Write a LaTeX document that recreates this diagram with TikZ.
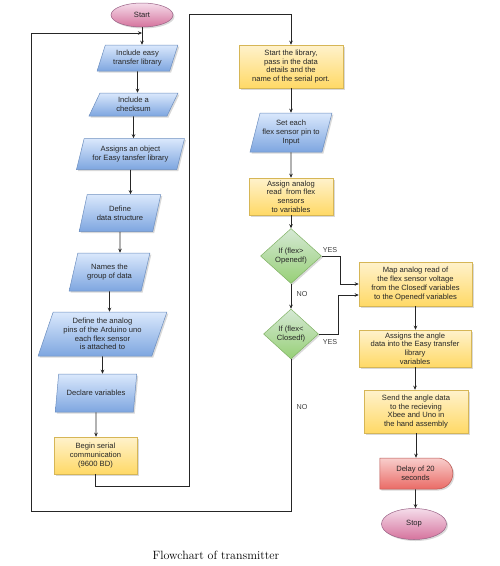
\documentclass[tikz,border=0pt]{standalone}
\usepackage{fontspec}
\usetikzlibrary{shapes.geometric,shapes.misc,shadows,arrows.meta}
\newfontfamily\flowfont{Liberation Sans}

\definecolor{blueTop}{HTML}{DAE8FC}
\definecolor{blueBot}{HTML}{7EA6E0}
\definecolor{blueLine}{HTML}{6C8EBF}
\definecolor{yelTop}{HTML}{FFF2CC}
\definecolor{yelBot}{HTML}{FFD966}
\definecolor{yelLine}{HTML}{D6B656}
\definecolor{grnTop}{HTML}{D5E8D4}
\definecolor{grnBot}{HTML}{97D077}
\definecolor{grnLine}{HTML}{82B366}
\definecolor{redTop}{HTML}{F8CECC}
\definecolor{redBot}{HTML}{EA6B66}
\definecolor{redLine}{HTML}{B85450}
\definecolor{pinkTop}{HTML}{F5DCEA}
\definecolor{pinkBot}{HTML}{D5739D}
\definecolor{pinkLine}{HTML}{996185}

\tikzset{
    base/.style={font=\flowfont\fontsize{7.6}{8.7}\selectfont, text=black!85,
        align=center, inner sep=1pt, line width=0.5pt,
        drop shadow={shadow xshift=1.5pt, shadow yshift=-1.5pt, opacity=0.3}},
    iobox/.style={base, trapezium, trapezium left angle=70, trapezium right angle=110,
        trapezium stretches=true, draw=blueLine, top color=blueTop, bottom color=blueBot},
    procbox/.style={base, rectangle, draw=yelLine, top color=yelTop, bottom color=yelBot},
    testbox/.style={base, diamond, draw=grnLine, top color=grnTop, bottom color=grnBot},
    delaybox/.style={base, rounded rectangle, rounded rectangle left arc=none,
        draw=redLine, top color=redTop, bottom color=redBot},
    termbox/.style={base, ellipse, draw=pinkLine, top color=pinkTop, bottom color=pinkBot},
    arr/.style={-{Stealth[length=4pt,width=3.5pt]}, line width=0.6pt, draw=black!85},
    lbl/.style={font=\flowfont\fontsize{7.2}{8}\selectfont, text=black!75, inner sep=0pt}
}

\begin{document}
\begin{tikzpicture}[x=1pt, y=-1pt]
        \useasboundingbox (0,0) rectangle (500,566);

        % nodes
        \node [termbox, minimum width=62pt, minimum height=24pt] (start) at (142, 15) {Start};
        \node [iobox, minimum width=81pt, minimum height=26pt] (inc) at (137.5, 58) {Include easy\\transfer library};
        \node [iobox, minimum width=89pt, minimum height=23pt] (chk) at (133.5, 104.5) {Include a\\checksum};
        \node [iobox, minimum width=109pt, minimum height=31pt] (obj) at (130.5, 154) {Assigns an object\\for Easy tansfer library};
        \node [iobox, minimum width=82pt, minimum height=37pt] (dstr) at (120, 213) {Define\\data structure};
        \node [iobox, minimum width=81pt, minimum height=38pt] (grp) at (109.5, 272) {Names the\\group of data};
        \node [iobox, minimum width=129pt, minimum height=44pt] (pins) at (102.5, 334) {Define the analog\\pins of the Arduino uno\\each flex sensor\\is attached to};
        \node [iobox, minimum width=82pt, minimum height=38pt] (vars) at (96, 393) {Declare variables};
        \node [procbox, minimum width=83pt, minimum height=37pt] (ser) at (95.5, 455.5) {Begin serial\\communication\\(9600 BD)};

        \node [procbox, minimum width=104pt, minimum height=43pt] (lib) at (291, 66.5) {Start the library,\\pass in the data\\details and the\\name of the serial port.};
        \node [iobox, minimum width=82pt, minimum height=39pt] (pin) at (291, 132.5) {Set each\\flex sensor pin to\\Input};
        \node [procbox, minimum width=84pt, minimum height=37pt] (rd) at (291, 196.5) {Assign analog\\read~ from flex\\sensors\\to variables};
        \node [testbox, minimum width=61pt, minimum height=55pt] (dec1) at (291, 256) {If (flex>\\Openedf)};
        \node [testbox, minimum width=55pt, minimum height=50pt] (dec2) at (291, 334) {If (flex<\\Closedf)};

        \node [procbox, minimum width=113pt, minimum height=44pt] (map) at (415.5, 284) {Map analog read of\\the flex sensor voltage\\from the Closedf variables\\to the Openedf variables};
        \node [procbox, minimum width=112pt, minimum height=37pt] (ang) at (415, 348.5) {Assigns the angle\\data into the Easy transfer\\library\\variables};
        \node [procbox, minimum width=104pt, minimum height=43pt] (send) at (416, 411.5) {Send the angle data\\to the recieving\\Xbee and Uno in\\the hand assembly};
        \node [delaybox, minimum width=75pt, minimum height=31pt] (wait) at (415.5, 473.5) {Delay of 20\\seconds};
        \node [termbox, minimum width=65pt, minimum height=31pt] (stop) at (414, 524) {Stop};

        \node [font=\large] (cap) at (216, 555) {Flowchart of transmitter};

        % labels
        \node [lbl] (yes1) at (330, 250) {YES};
        \node [lbl] (yes2) at (330, 342) {YES};
        \node [lbl] (no1) at (302, 294) {NO};
        \node [lbl] (no2) at (302, 407) {NO};

        % corners of the loops
        \coordinate (join) at (142, 33);
        \coordinate (turnA) at (189, 14);
        \coordinate (turnB) at (31, 511);

        % arrows
        % setup column
        \draw [arr] (start) -- (start |- inc.north);
        \draw [arr] (inc) -- (inc |- chk.north);
        \draw [arr] (chk) -- (chk |- obj.north);
        \draw [arr] (obj) -- (obj |- dstr.north);
        \draw [arr] (dstr) -- (dstr |- grp.north);
        \draw [arr] (grp) -- (grp |- pins.north);
        \draw [arr] (pins) -- (pins |- vars.north);
        \draw [arr] (vars) -- (vars |- ser.north);
        \draw [arr] (ser.south) -- ++(0,12) -| (turnA) -| (lib.north);

        % loop column
        \draw [arr] (lib) -- (pin);
        \draw [arr] (pin) -- (rd);
        \draw [arr] (rd) -- (dec1);
        \draw [arr] (dec1) -- (dec2);
        \draw [arr] (dec1.east) -- ++(19,0) |- (map.west);
        \draw [arr] (dec2.east) -- ++(20,0) |- ([yshift=-11pt]map.west);
        \draw [arr] (dec2.south) |- (turnB) |- (join);

        % output column
        \draw [arr] (map) -- (map |- ang.north);
        \draw [arr] (ang) -- (ang |- send.north);
        \draw [arr] (send) -- (send |- wait.north);
        \draw [arr] (wait) -- (wait |- stop.north);
    \end{tikzpicture}
\end{document}
